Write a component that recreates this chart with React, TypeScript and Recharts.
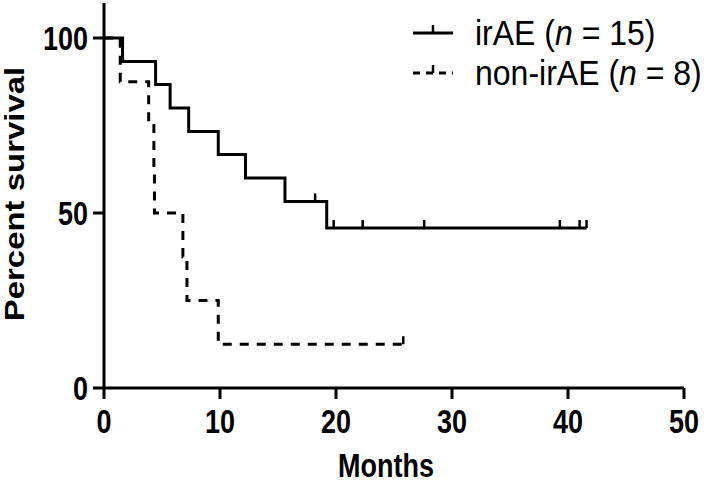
import React from 'react';
import { ComposedChart, Line, Scatter, XAxis, YAxis, Legend } from 'recharts';

// ---- data ----
const xTicks = [0, 10, 20, 30, 40, 50];
const yTicks = [0, 50, 100];

const irAETimes = [0, 1.6, 4.45, 5.7, 7.3, 9.85, 12.2, 15.6, 19.2, 41.6];
const irAESurvival = [100, 93.3, 86.7, 80, 73.3, 66.7, 60, 53.3, 45.7, 45.7];
const irAECensorTimes = [18.2, 19.8, 22.3, 27.6, 39.3, 41.0, 41.6];
const irAECensorSurvival = [53.3, 45.7, 45.7, 45.7, 45.7, 45.7, 45.7];

const nonTimes = [0, 1.4, 3.85, 4.3, 4.35, 6.8, 7.15, 9.85, 25.8];
const nonSurvival = [100, 87.5, 75, 62.5, 50, 37.5, 25, 12.5, 12.5];
const nonCensorTimes = [25.8];
const nonCensorSurvival = [12.5];

const seriesNames = ['irAE', 'non-irAE'];
const seriesN = [15, 8];

const irAEData = irAETimes.map((x, i) => ({ x, y: irAESurvival[i] }));
const irAECensor = irAECensorTimes.map((x, i) => ({ x, y: irAECensorSurvival[i] }));
const nonData = nonTimes.map((x, i) => ({ x, y: nonSurvival[i] }));
const nonCensor = nonCensorTimes.map((x, i) => ({ x, y: nonCensorSurvival[i] }));

const FONT = '"Liberation Sans", Arial, Helvetica, sans-serif';
const DASH = '9 8';
const STRETCH = 1.22;

const CensorMark = (props: any) => {
  const { cx, cy } = props;
  if (cx == null || cy == null) return null;
  return <line x1={cx} y1={cy} x2={cx} y2={cy - 8} stroke="#000" strokeWidth={2.5} />;
};

const XTick = (props: any) => {
  const { x, y, payload } = props;
  return (
    <g transform={`translate(${x}, ${y + 32}) scale(1, ${STRETCH})`}>
      <text x={0} y={0} textAnchor="middle" fontFamily={FONT} fontWeight="bold" fontSize={27} fill="#000">
        {payload.value}
      </text>
    </g>
  );
};

const YTick = (props: any) => {
  const { x, y, payload } = props;
  return (
    <g transform={`translate(${x}, ${y}) scale(1, ${STRETCH})`}>
      <text x={0} y={9.6} textAnchor="end" fontFamily={FONT} fontWeight="bold" fontSize={27} fill="#000">
        {payload.value}
      </text>
    </g>
  );
};

const renderLegend = () => (
  <div style={{ fontFamily: FONT, fontSize: 32, color: '#000', lineHeight: '40px' }}>
    {seriesNames.map((name, i) => (
      <div key={name} style={{ display: 'flex', alignItems: 'center', height: 40, whiteSpace: 'nowrap' }}>
        <svg width={62} height={40} style={{ display: 'block', flex: 'none' }}>
          <line x1={0} y1={20} x2={40} y2={20} stroke="#000" strokeWidth={3}
            strokeDasharray={i === 1 ? '7 6' : undefined} />
          <line x1={20} y1={20} x2={20} y2={12} stroke="#000" strokeWidth={2.5} />
        </svg>
        <span style={{ display: 'inline-block', transform: 'scaleY(1.1)' }}>
          {name} (<i>n</i> = {seriesN[i]})
        </span>
      </div>
    ))}
  </div>
);

const xLabel = () => (
  <g transform={`translate(386, 477) scale(1, ${STRETCH})`}>
    <text x={0} y={0} textAnchor="middle" fontFamily={FONT} fontWeight="bold" fontSize={27} fill="#000">
      Months
    </text>
  </g>
);

const yLabel = () => (
  <g transform={`translate(14, 194) rotate(-90) scale(${STRETCH}, 1)`}>
    <text x={0} y={9.6} textAnchor="middle" fontFamily={FONT} fontWeight="bold" fontSize={27} fill="#000">
      Percent survival
    </text>
  </g>
);

export default function App() {
  return (
    <div style={{ position: 'absolute', left: 0, top: 0, width: 709, height: 483, background: '#fff' }}>
      <ComposedChart width={709} height={483} margin={{ top: 3, right: 25, bottom: 0, left: 0 }}>
        <XAxis
          dataKey="x"
          type="number"
          domain={[0, 50]}
          ticks={xTicks}
          allowDataOverflow
          axisLine={{ stroke: '#000', strokeWidth: 3 }}
          tickLine={{ stroke: '#000', strokeWidth: 3 }}
          tickSize={11}
          tickMargin={2}
          height={95}
          tick={<XTick />}
          label={xLabel}
        />
        <YAxis
          type="number"
          domain={[0, 110]}
          ticks={yTicks}
          allowDataOverflow
          axisLine={{ stroke: '#000', strokeWidth: 3 }}
          tickLine={{ stroke: '#000', strokeWidth: 3 }}
          tickSize={11}
          tickMargin={5}
          width={104}
          tick={<YTick />}
          label={yLabel}
        />
        <Line data={irAEData} dataKey="y" type="stepAfter" stroke="#000" strokeWidth={3}
          dot={false} activeDot={false} isAnimationActive={false} />
        <Line data={nonData} dataKey="y" type="stepAfter" stroke="#000" strokeWidth={3}
          strokeDasharray={DASH} dot={false} activeDot={false} isAnimationActive={false} />
        <Scatter data={irAECensor} dataKey="y" shape={<CensorMark />} isAnimationActive={false} />
        <Scatter data={nonCensor} dataKey="y" shape={<CensorMark />} isAnimationActive={false} />
        <Legend
          layout="vertical"
          align="center"
          verticalAlign="middle"
          content={renderLegend}
          wrapperStyle={{ left: 413, top: 13, width: 296, height: 80, margin: 0, padding: 0 }}
        />
      </ComposedChart>
    </div>
  );
}
